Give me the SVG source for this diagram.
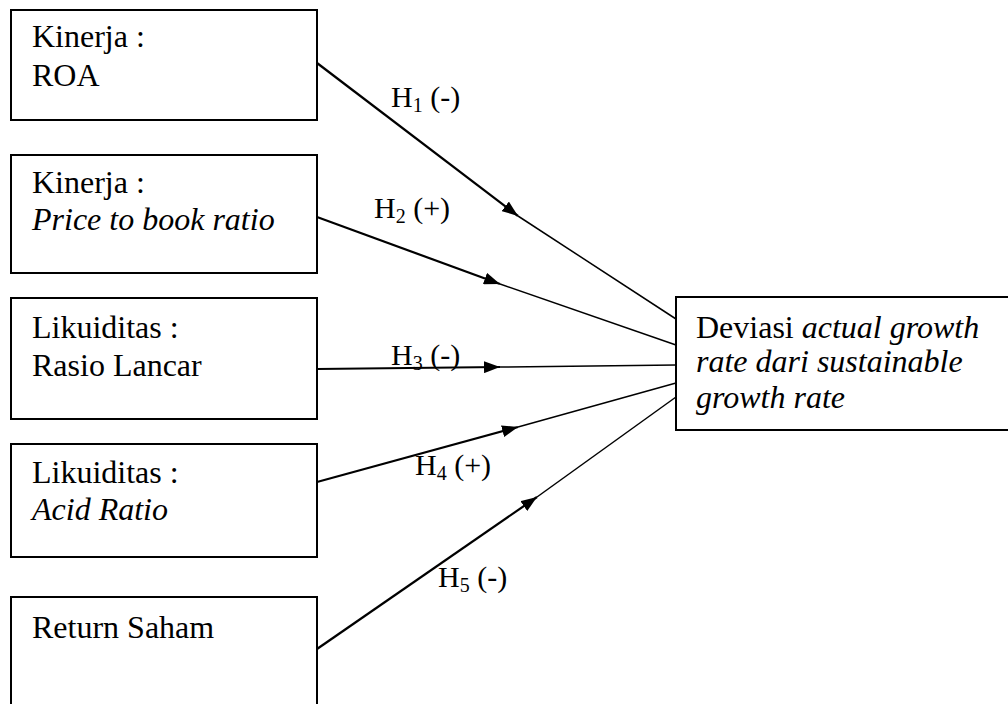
<svg xmlns="http://www.w3.org/2000/svg" width="1008" height="704" viewBox="0 0 1008 704">
<style>
.box{fill:#fff;stroke:#000;stroke-width:2}
.t{font-family:"Liberation Serif","Times New Roman",serif;font-size:32px;fill:#000}
.i{font-style:italic}
.lab{font-family:"Liberation Serif","Times New Roman",serif;font-size:30px;fill:#000}
.sub{font-size:20px}
.a{stroke:#000;stroke-width:2.2;fill:none}
.b{stroke:#000;stroke-width:1.5;fill:none}
</style>
<defs>
<marker id="ah" viewBox="0 0 16 12" markerWidth="16" markerHeight="12" refX="16" refY="6" orient="auto" markerUnits="userSpaceOnUse">
<path d="M0,0 L16,6 L0,12 z" fill="#000"/>
</marker>
</defs>
<rect width="1008" height="704" fill="#fff"/>
<g id="n1"><rect class="box" x="11" y="10" width="306" height="110"/>
<text class="t" x="32" y="47">Kinerja :</text><text class="t" x="32" y="86">ROA</text></g>
<g id="n2"><rect class="box" x="11" y="155" width="306" height="118"/>
<text class="t" x="32" y="193">Kinerja :</text><text class="t i" x="32" y="230">Price to book ratio</text></g>
<g id="n3"><rect class="box" x="11" y="298" width="306" height="121"/>
<text class="t" x="32" y="338">Likuiditas :</text><text class="t" x="32" y="376">Rasio Lancar</text></g>
<g id="n4"><rect class="box" x="11" y="444" width="306" height="113"/>
<text class="t" x="32" y="483">Likuiditas :</text><text class="t i" x="32" y="520">Acid Ratio</text></g>
<g id="n5"><rect class="box" x="11" y="597" width="306" height="120"/>
<text class="t" x="32" y="638">Return Saham</text></g>
<g id="target"><rect class="box" x="676" y="297" width="340" height="133"/>
<text class="t" x="696" y="338">Deviasi <tspan class="i">actual growth</tspan></text>
<text class="t i" x="696" y="372">rate dari sustainable</text>
<text class="t i" x="696" y="408">growth rate</text></g>
<g id="connectors">
<line class="a" x1="317" y1="63" x2="518" y2="216" marker-end="url(#ah)"/>
<line class="b" x1="518" y1="216" x2="676" y2="319"/>
<line class="a" x1="317" y1="217" x2="500" y2="284" marker-end="url(#ah)"/>
<line class="b" x1="500" y1="284" x2="676" y2="345"/>
<line class="a" x1="317" y1="369" x2="500" y2="367" marker-end="url(#ah)"/>
<line class="b" x1="500" y1="367" x2="676" y2="365"/>
<line class="a" x1="317" y1="482" x2="518" y2="427" marker-end="url(#ah)"/>
<line class="b" x1="518" y1="427" x2="676" y2="383"/>
<line class="a" x1="317" y1="649" x2="537" y2="497" marker-end="url(#ah)"/>
<line class="b" x1="537" y1="497" x2="676" y2="397"/>
</g>
<g id="labels">
<text class="lab" x="391" y="107">H<tspan class="sub" dy="5">1</tspan><tspan dy="-5"> (-)</tspan></text>
<text class="lab" x="374" y="218">H<tspan class="sub" dy="5">2</tspan><tspan dy="-5"> (+)</tspan></text>
<text class="lab" x="391" y="365">H<tspan class="sub" dy="5">3</tspan><tspan dy="-5"> (-)</tspan></text>
<text class="lab" x="415" y="475">H<tspan class="sub" dy="5">4</tspan><tspan dy="-5"> (+)</tspan></text>
<text class="lab" x="438" y="587">H<tspan class="sub" dy="5">5</tspan><tspan dy="-5"> (-)</tspan></text>
</g>
</svg>
